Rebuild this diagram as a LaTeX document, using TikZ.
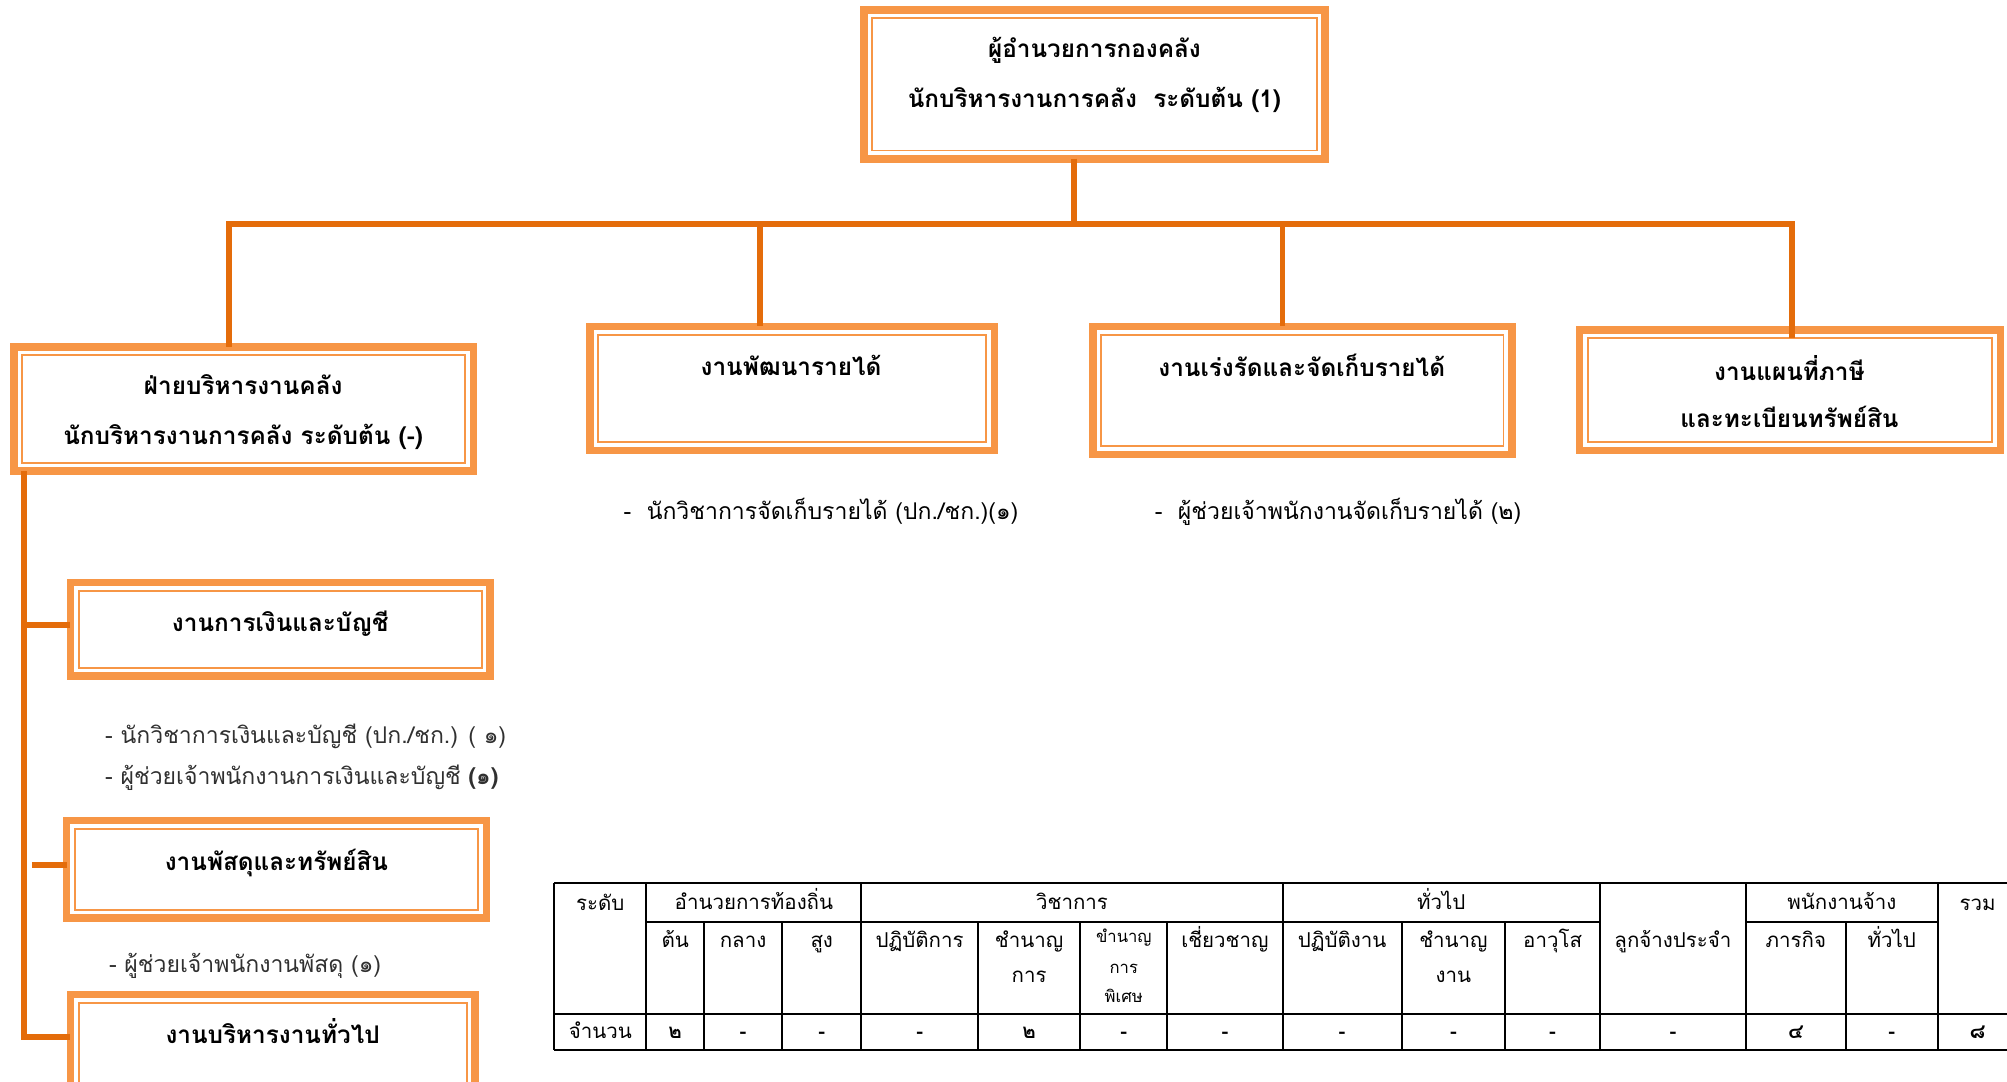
\documentclass[tikz,border=0pt]{standalone}
\usepackage{fontspec}
\setmainfont[Script=Thai]{Loma}
\definecolor{boxorange}{HTML}{F79646}
\definecolor{lineorange}{HTML}{E46C0A}
\definecolor{bultxt}{HTML}{303030}
\tikzset{
  obox/.style={draw=boxorange, line width=6pt, fill=white, inner sep=0pt, outer sep=0pt},
  ithin/.style={draw=boxorange, line width=1.5pt},
  conn/.style={draw=lineorange, line width=4.5pt},
  tbl/.style={draw=black, line width=1.5pt},
  head/.style={inner sep=0pt, text height=10pt, text depth=0pt, font=\fontsize{19}{22}\selectfont\bfseries},
  bul/.style={inner sep=0pt, text height=9.5pt, text depth=0pt, anchor=west, font=\fontsize{18}{21}\selectfont},
  tt/.style={inner sep=0pt, text height=8.5pt, text depth=0pt, font=\fontsize{16}{19}\selectfont},
  ts/.style={inner sep=0pt, text height=7pt, text depth=0pt, font=\fontsize{13}{15}\selectfont},
}
\newcommand{\orgbox}[5]{%
  \node[obox, minimum width={(#4)-(#2)-6}, minimum height={(#5)-(#3)-6}] (#1) at ({((#2)+(#4))/2},{((#3)+(#5))/2}) {};
  \draw[ithin] ([shift={(6.4,6.4)}]#1.north west) rectangle ([shift={(-6.4,-6.4)}]#1.south east);
}
\begin{document}
\begin{tikzpicture}[x=1pt,y=-1pt]
\useasboundingbox (0,0) rectangle (1568,845.3);
\clip (0,0) rectangle (1568,845.3);

% boxes
\orgbox{top}{672}{5}{1038}{127}
\orgbox{b2}{8}{268}{373}{371}
\orgbox{b3}{458}{252}{780}{355}
\orgbox{b4}{851}{252}{1184}{358}
\orgbox{b5}{1231}{255}{1566}{355}
\orgbox{b6}{52}{452}{386}{531}
\orgbox{b7}{49}{638}{383}{720}
\orgbox{b8}{52}{774}{374}{885}

% box texts
\node[head] (t1a) at (855,40) {ผู้อำนวยการกองคลัง};
\node[head] (t1b) at (855,79) {นักบริหารงานการคลัง\ \ ระดับต้น (1)};
\node[head] (t2a) at (190,303) {ฝ่ายบริหารงานคลัง};
\node[head] (t2b) at (190,342) {นักบริหารงานการคลัง ระดับต้น (-)};
\node[head] (t3) at (618,288) {งานพัฒนารายได้};
\node[head] (t4) at (1017,289) {งานเร่งรัดและจัดเก็บรายได้};
\node[head] (t5a) at (1398,292) {งานแผนที่ภาษี};
\node[head] (t5b) at (1398,329) {และทะเบียนทรัพย์สิน};
\node[head] (t6) at (219,488) {งานการเงินและบัญชี};
\node[head] (t7) at (216,675) {งานพัสดุและทรัพย์สิน};
\node[head] (t8) at (213,810) {งานบริหารงานทั่วไป};

% bullet texts
\node[bul] (u3) at (487,401) {-\ \ นักวิชาการจัดเก็บรายได้ (ปก./ชก.)(๑)};
\node[bul] (u4) at (902,401) {-\ \ ผู้ช่วยเจ้าพนักงานจัดเก็บรายได้ (๒)};
\node[bul, text=bultxt] (u6a) at (82,576) {- นักวิชาการเงินและบัญชี (ปก./ชก.) ( ๑)};
\node[bul, text=bultxt] (u6b) at (82,608) {- ผู้ช่วยเจ้าพนักงานการเงินและบัญชี {\bfseries (๑)}};
\node[bul, text=bultxt] (u7) at (85,755) {- ผู้ช่วยเจ้าพนักงานพัสดุ (๑)};

% connectors
\coordinate (j0) at (839,175);
\coordinate (hl) at (179,175);
\coordinate (hr) at (1400,175);
\coordinate (v3) at (594,175);
\coordinate (v4) at (1002,175);
\draw[conn] (top.south -| j0) -- (j0);
\draw[conn] (b2.north -| hl) -- (hl) -- (hr) -- ([yshift=-6pt]b5.north -| hr);
\draw[conn] (v3) -- (b3.north -| v3);
\draw[conn] (v4) -- (b4.north -| v4);
\coordinate (sp) at (18.5,810);
\coordinate (s6) at (18.5,488);
\coordinate (s7) at (25,676);
\draw[conn] (b2.south -| sp) -- (sp) -- (b8.west |- sp);
\draw[conn] (s6) -- (b6.west |- s6);
\draw[conn] (s7) -- (b7.west |- s7);

% table
\draw[tbl] (433,690) -- (1576,690);
\draw[tbl] (505,720) -- (1250,720);
\draw[tbl] (1364,720) -- (1514,720);
\draw[tbl] (433,792) -- (1576,792);
\draw[tbl] (433,820) -- (1576,820);
\foreach \x in {433,505,673,1002,1250,1364,1514,1576} \draw[tbl] (\x,690) -- (\x,820);
\foreach \x in {550,611,764,844,912,1095,1176,1442} \draw[tbl] (\x,720) -- (\x,820);

% table header row 1
\node[tt] (h1) at (469,707) {ระดับ};
\node[tt] (h2) at (589,706) {อำนวยการท้องถิ่น};
\node[tt] (h3) at (837.5,706) {วิชาการ};
\node[tt] (h4) at (1126,706) {ทั่วไป};
\node[tt] (h5) at (1439,706) {พนักงานจ้าง};
\node[tt] (h6) at (1545,707) {รวม};
% row 2
\node[tt] (r1) at (527.5,736) {ต้น};
\node[tt] (r2) at (580.5,736) {กลาง};
\node[tt] (r3) at (642,736) {สูง};
\node[tt] (r4) at (718.5,736) {ปฏิบัติการ};
\node[tt] (r5a) at (804,736) {ชำนาญ};
\node[tt] (r5b) at (804,763) {การ};
\node[ts] (r6a) at (878,733) {ขำนาญ};
\node[ts] (r6b) at (878,757) {การ};
\node[ts] (r6c) at (878,780) {พิเศษ};
\node[tt] (r7) at (957,736) {เชี่ยวชาญ};
\node[tt] (r8) at (1048.5,736) {ปฏิบัติงาน};
\node[tt] (r9a) at (1135.5,736) {ชำนาญ};
\node[tt] (r9b) at (1135.5,763) {งาน};
\node[tt] (r10) at (1213,736) {อาวุโส};
\node[tt] (r11) at (1307,736) {ลูกจ้างประจำ};
\node[tt] (r12) at (1403,736) {ภารกิจ};
\node[tt] (r13) at (1478,736) {ทั่วไป};
% row 3
\node[tt] (n0) at (469,807) {จำนวน};
\foreach \x/\v [count=\i] in {527.5/๒, 580.5/-, 642/-, 718.5/-, 804/๒, 878/-, 957/-, 1048.5/-, 1135.5/-, 1213/-, 1307/-, 1403/๔, 1478/-, 1545/๘}
  \node[tt, font=\fontsize{16}{19}\selectfont\bfseries] (n\i) at (\x,807) {\v};
\end{tikzpicture}
\end{document}
